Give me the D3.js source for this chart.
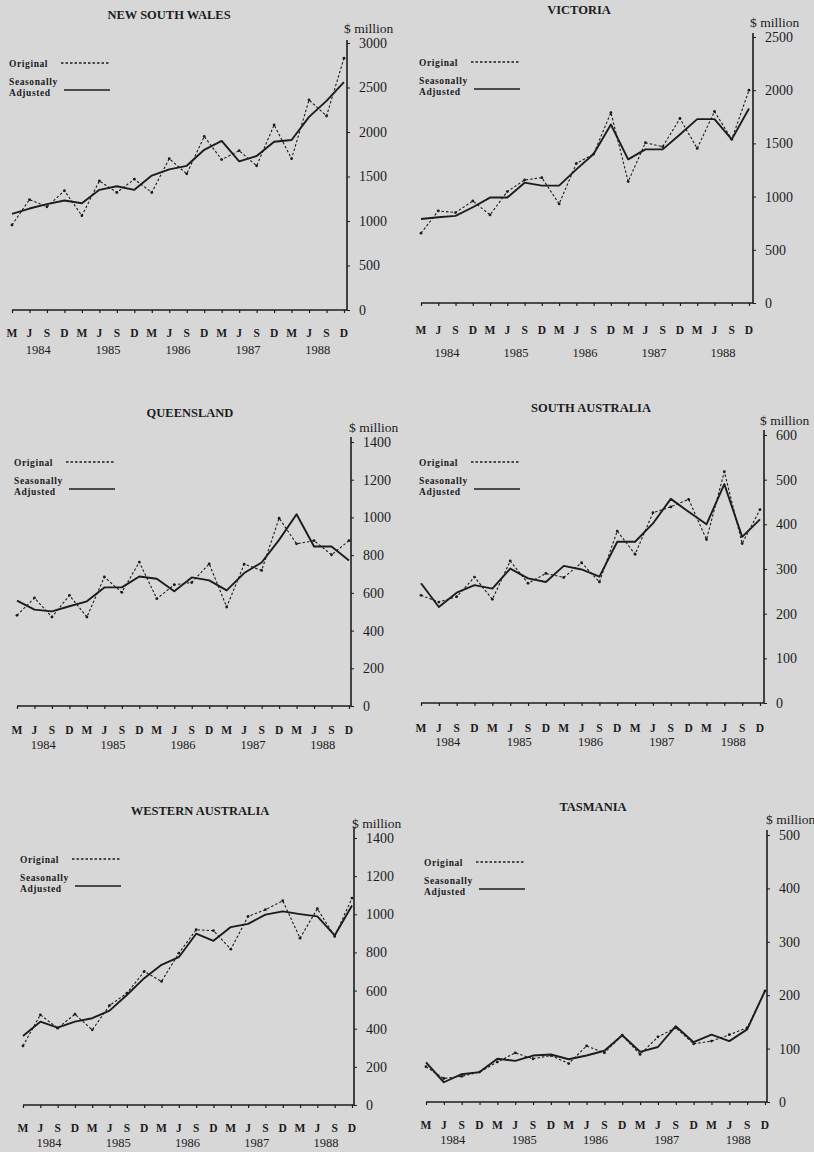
<!DOCTYPE html>
<html><head><meta charset="utf-8">
<script src="https://cdn.jsdelivr.net/npm/d3@7"></script>
<style>
html,body{margin:0;padding:0;background:#d7d7d8;}
svg{display:block;}
text{font-family:"Liberation Serif","Times New Roman",serif;fill:#1c1c1c;}
</style></head><body>
<svg id="c" width="814" height="1152"></svg>
<script>
// ---- data ----
const quarters = ["M","J","S","D","M","J","S","D","M","J","S","D","M","J","S","D","M","J","S","D"];
const years = ["1984","1985","1986","1987","1988"];
const states = ["NEW SOUTH WALES","VICTORIA","QUEENSLAND","SOUTH AUSTRALIA","WESTERN AUSTRALIA","TASMANIA"];
const nswTicks = [0,500,1000,1500,2000,2500,3000];
const vicTicks = [0,500,1000,1500,2000,2500];
const qldTicks = [0,200,400,600,800,1000,1200,1400];
const saTicks = [0,100,200,300,400,500,600];
const waTicks = [0,200,400,600,800,1000,1200,1400];
const tasTicks = [0,100,200,300,400,500];
const nswOriginal = [955,1240,1160,1340,1060,1450,1320,1470,1320,1700,1530,1950,1690,1790,1620,2080,1700,2360,2180,2830];
const nswAdjusted = [1080,1140,1190,1230,1200,1350,1390,1350,1510,1580,1620,1800,1900,1670,1730,1890,1910,2170,2350,2560];
const vicOriginal = [656,866,850,959,828,1047,1156,1178,931,1312,1400,1790,1141,1506,1469,1734,1453,1800,1538,2000];
const vicAdjusted = [790,806,819,900,991,991,1131,1103,1103,1256,1400,1678,1350,1444,1444,1584,1728,1728,1538,1828];
const qldOriginal = [481,573,472,587,472,684,603,763,569,643,655,754,525,752,719,996,860,877,802,877];
const qldAdjusted = [559,511,502,529,555,629,629,687,675,608,682,666,613,705,761,881,1017,846,846,772];
const saOriginal = [241,226,238,282,232,318,268,290,281,314,271,385,333,426,439,456,366,518,357,433];
const saAdjusted = [268,215,247,264,256,301,279,271,307,299,283,361,361,402,457,428,400,490,372,411];
const waOriginal = [310,473,403,476,394,522,586,700,648,796,919,914,817,989,1024,1071,875,1029,884,1085];
const waAdjusted = [362,437,406,437,455,495,577,665,735,775,898,861,933,950,998,1015,1001,989,889,1046];
const tasOriginal = [66,44,48,56,75,92,81,87,72,105,92,125,89,122,139,109,114,126,139,208];
const tasAdjusted = [74,37,52,56,81,77,87,89,80,87,96,125,94,103,142,112,126,114,136,208];

// ---- layout ----
const panels = [
  {title:states[0], orig:nswOriginal, adj:nswAdjusted, ticks:nswTicks, x0:12, x1:344, ax:347, y0:310, yT:43, max:3000, top:40, tx:169, ty:15, mx:344, my:28, qy:333, yy:350, lx:9, ly:64},
  {title:states[1], orig:vicOriginal, adj:vicAdjusted, ticks:vicTicks, x0:421, x1:749, ax:753, y0:303, yT:37, max:2500, top:33, tx:579, ty:10, mx:750, my:22, qy:330, yy:353, lx:419, ly:63},
  {title:states[2], orig:qldOriginal, adj:qldAdjusted, ticks:qldTicks, x0:17, x1:349, ax:351, y0:706, yT:442, max:1400, top:437, tx:190, ty:413, mx:349, my:427, qy:730, yy:745, lx:14, ly:463},
  {title:states[3], orig:saOriginal, adj:saAdjusted, ticks:saTicks, x0:421, x1:760, ax:764, y0:703, yT:435, max:600, top:430, tx:591, ty:408, mx:760, my:420, qy:728, yy:742, lx:419, ly:463},
  {title:states[4], orig:waOriginal, adj:waAdjusted, ticks:waTicks, x0:23, x1:352, ax:354, y0:1105, yT:838, max:1400, top:827, tx:200, ty:811, mx:352, my:823, qy:1128, yy:1143, lx:20, ly:860},
  {title:states[5], orig:tasOriginal, adj:tasAdjusted, ticks:tasTicks, x0:426, x1:765, ax:767, y0:1102, yT:835, max:500, top:830, tx:593, ty:807, mx:766, my:819, qy:1125, yy:1140, lx:424, ly:863}
];

const svg = d3.select("#c");
const ink = "#1c1c1c";

panels.forEach(p => {
  const g = svg.append("g");
  const x = d3.scaleLinear().domain([0, quarters.length-1]).range([p.x0, p.x1]);
  const y = d3.scaleLinear().domain([0, p.max]).range([p.y0, p.yT]);

  // title
  g.append("text").attr("x", p.tx).attr("y", p.ty).attr("text-anchor","middle")
    .attr("dominant-baseline","central").style("font-weight","bold").style("font-size","12.5px")
    .text(p.title);
  // unit
  g.append("text").attr("x", p.mx).attr("y", p.my).attr("dominant-baseline","central")
    .style("font-size","13.5px").text("$ million");

  // y axis (right)
  const yAxis = d3.axisRight(y).tickValues(p.ticks).tickSize(3).tickPadding(9).tickFormat(d3.format("d"));
  const ya = g.append("g").attr("transform", `translate(${p.ax},0)`).call(yAxis);
  ya.select(".domain").remove();
  ya.selectAll("line").attr("stroke", ink).attr("stroke-width", 1);
  ya.selectAll("text").style("font-size","14px").style("font-family",'"Liberation Serif",serif').attr("fill", ink);
  g.append("line").attr("x1", p.ax).attr("x2", p.ax).attr("y1", p.top).attr("y2", p.y0)
    .attr("stroke", ink).attr("stroke-width", 1.6);

  // x axis
  const xAxis = d3.axisBottom(x).tickValues(d3.range(quarters.length)).tickSize(3).tickFormat("");
  const xa = g.append("g").attr("transform", `translate(0,${p.y0})`).call(xAxis);
  xa.select(".domain").remove();
  xa.selectAll("line").attr("stroke", ink).attr("stroke-width", 1.2);
  g.append("line").attr("x1", p.x0).attr("x2", p.ax).attr("y1", p.y0).attr("y2", p.y0)
    .attr("stroke", ink).attr("stroke-width", 1.6);

  // quarter labels
  g.selectAll(".q").data(quarters).join("text")
    .attr("x", (d,i) => x(i)).attr("y", p.qy).attr("text-anchor","middle").attr("dominant-baseline","central")
    .style("font-weight","bold").style("font-size","11.5px").text(d => d);
  // year labels
  g.selectAll(".yr").data(years).join("text")
    .attr("x", (d,i) => x(i*4 + 1.5)).attr("y", p.yy).attr("text-anchor","middle").attr("dominant-baseline","central")
    .style("font-size","12.5px").text(d => d);

  // lines
  const line = d3.line().x((d,i) => x(i)).y(d => y(d));
  g.append("path").datum(p.orig).attr("d", line).attr("fill","none").attr("stroke", ink)
    .attr("stroke-width", 1.1).attr("stroke-dasharray","2.5,2");
  g.selectAll(".pt").data(p.orig).join("circle")
    .attr("cx", (d,i) => x(i)).attr("cy", d => y(d)).attr("r", 1.4).attr("fill", ink);
  g.append("path").datum(p.adj).attr("d", line).attr("fill","none").attr("stroke", ink)
    .attr("stroke-width", 1.9).attr("stroke-linejoin","round");

  // legend
  const lg = {"font-weight":"bold","font-size":"9.5px","letter-spacing":"0.6px"};
  const lt = (yy, s) => {
    const t = g.append("text").attr("x", p.lx).attr("y", yy).attr("dominant-baseline","central").text(s);
    Object.entries(lg).forEach(([k,v]) => t.style(k, v));
  };
  lt(p.ly, "Original");
  g.append("line").attr("x1", p.lx+52).attr("x2", p.lx+101).attr("y1", p.ly-1).attr("y2", p.ly-1)
    .attr("stroke", ink).attr("stroke-width", 1.4).attr("stroke-dasharray","2.5,2");
  lt(p.ly+18, "Seasonally");
  lt(p.ly+29, "Adjusted");
  g.append("line").attr("x1", p.lx+55).attr("x2", p.lx+101).attr("y1", p.ly+26).attr("y2", p.ly+26)
    .attr("stroke", ink).attr("stroke-width", 1.7);
});
</script></body></html>
